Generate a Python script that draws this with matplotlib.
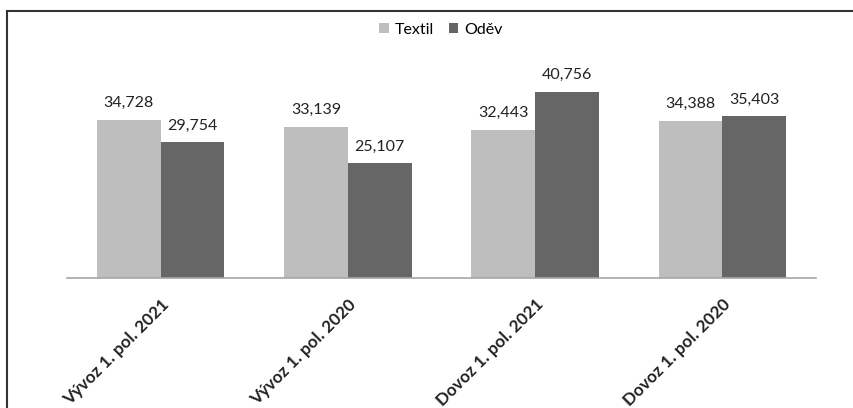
import matplotlib
matplotlib.use("Agg")
import matplotlib.pyplot as plt
import numpy as np
from matplotlib.lines import Line2D

plt.rcParams['font.family'] = ['Lato', 'DejaVu Sans']

categories = ["Vývoz 1. pol. 2021", "Vývoz 1. pol. 2020", "Dovoz 1. pol. 2021", "Dovoz 1. pol. 2020"]
textil = [34728, 33139, 32443, 34388]
odev = [29754, 25107, 40756, 35403]
series_names = ["Textil", "Oděv"]
colors = ["#BEBEBE", "#666666"]

fig = plt.figure(figsize=(8.54, 4.08), dpi=100)
ax = fig.add_axes([0.0785, 0.3186, 0.877, 0.5034])

x = np.arange(len(categories))
w = 0.34
b1 = ax.bar(x - w / 2, textil, w, color=colors[0], label=series_names[0])
b2 = ax.bar(x + w / 2, odev, w, color=colors[1], label=series_names[1])

for bars, vals in ((b1, textil), (b2, odev)):
    for r, v in zip(bars, vals):
        ax.annotate(f"{v:,}", (r.get_x() + r.get_width() / 2, v),
                    xytext=(0, 7), textcoords="offset points",
                    ha="center", va="bottom", fontsize=11.5, color="#222222")

ax.set_xlim(-0.5, len(categories) - 0.5)
ax.set_ylim(0, 45000)
ax.set_yticks([])
for s in ("left", "right", "top"):
    ax.spines[s].set_visible(False)
ax.spines["bottom"].set_color("#A6A6A6")
ax.spines["bottom"].set_linewidth(1.2)

ax.set_xticks(x)
ax.set_xticklabels(categories, rotation=45, ha="right", va="top",
                   rotation_mode="anchor", fontsize=12.3, fontweight="bold",
                   color="#222222")
ax.tick_params(axis="x", length=0, pad=13)

ax.legend(loc="center", bbox_to_anchor=(441 / 854, 1 - 30 / 408),
          bbox_transform=fig.transFigure, ncol=2, frameon=False,
          fontsize=11.5, handlelength=0.6, handleheight=0.6,
          handletextpad=0.4, columnspacing=0.9)

# chart frame: top and left edges
fig.add_artist(Line2D([7.5 / 854, 1.0], [1 - 10.5 / 408, 1 - 10.5 / 408],
                      transform=fig.transFigure, color="#333333", lw=1.5))
fig.add_artist(Line2D([7.5 / 854, 7.5 / 854], [0.0, 1 - 10.5 / 408],
                      transform=fig.transFigure, color="#333333", lw=1.5))

fig.savefig("out.png", dpi=100)
